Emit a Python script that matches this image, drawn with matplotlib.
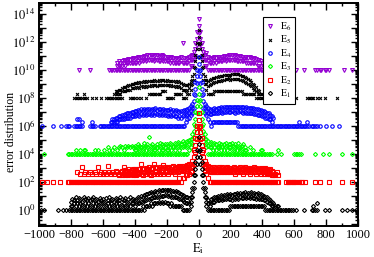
import numpy as np
import matplotlib
matplotlib.use('Agg')
import matplotlib.pyplot as plt
from matplotlib.ticker import LogLocator, FuncFormatter, MultipleLocator

plt.rcParams['font.family'] = ['Liberation Serif', 'DejaVu Serif']
plt.rcParams['mathtext.fontset'] = 'stix'

# histogram bins (E_i), counts per 10-unit column:
# lo / mid / hi = bottom, middle and top of the scatter band in each column
Ei = np.arange(-1000, 1001, 10)
Z = [0] * 20
ONE = [1] * 20

e1_lo = ([0,1,0,1,0,0,0,0,0,0,0,0,1,0,0,1,0,1,0,1] + ONE + ONE +
         [1,1,1,1,1,2,1,2,2,2,3,2,3,3,3,4,3,4,3,4] +
         [3,3,2,3,2,2,2,2,2,2,1,1,1,1,1,2,8,40,300,2000] +
         [16000,2000,300,40,8,2] + [1]*14 + [2]*20 + [2,2] + [1]*18 +
         [0,1,0,0,0,0,1,0,0,0,0,1,1,1,1,0,0,0,0,1] +
         [0,0,1,0,0,0,0,0,0,0,1,0,0,1,0,0,1,0,0,1] + [0])
e1_mid = (Z + [2,2,3,2,3,2,3,2,2,3,2,3,2,2,3,2,3,2,2,3] +
          [3,2,2,3,2,3,2,2,3,2,3,2,2,3,2,2,3,2,3,3] +
          [2,3,3,3,4,4,5,5,6,6,7,7,8,8,9,9,10,10,10,11] +
          [12,10,11,9,9,8,8,7,6,6,5,4,3,3,3,4,20,100,800,6000] +
          [50000,6000,800,100,20,4,3,2,3,4,4,5,5,5,6,5,6,6,7,6] +
          [6,5,7,6,7,6,8,7,7,8,7,8,7,8,7,7,6,7,6,6] +
          [6,5,5,4,3,3,2,2] + [0]*12 + Z + Z + [0])
e1_hi = (Z + [4,6,5,8,5,7,6,4,9,6,5,7,5,6,8,5,6,4,7,5] +
         [6,4,7,5,8,5,6,4,7,6,5,9,6,5,7,4,6,8,5,6] +
         [5,6,8,7,10,9,12,14,13,16,18,17,20,22,20,25,24,26,25,28] +
         [28,25,27,22,24,20,21,18,17,15,12,10,9,8,7,8,40,300,2500,20000] +
         [160000,20000,2500,300,40,8,5,4,6,7,8,9,10,9,11,10,12,11,13,12] +
         [14,12,15,13,16,14,17,15,16,18,15,17,16,18,15,17,14,16,13,15] +
         [12,10,9,8,6,5,4,3,2,2,2] + [0]*9 +
         [0]*12 + [2,0,3] + [0]*5 + Z + [0])

e2_lo = ([0,0,1,0,0,1,0,0,0,1,0,0,0,1,0,0,0,0,1,1] + ONE + ONE + ONE +
         [1,1,1,1,1,1,1,1,2,1,2,2,3,3,4,5,6,20,150,1100] +
         [9000,1100,150,20,6,4,2] + [1]*13 + ONE +
         [1]*11 + [0,0,0,0] + [1]*5 +
         [1,1,0,1,1,1,0,1,0,0,0,0,0,1,0,0,1,0,0,0] +
         [0,0,1,0,0,0,0,0,0,0,1,0,0,0,0,0,1,0,0,0] + [0])
e2_mid = (Z + Z + [0]*10 + [3,0,3,4,3,4,3,4,4,3] +
          [4,3,4,5,4,3,5,4,5,4,3,5,4,5,4,5,4,5,4,5] +
          [5,4,5,6,5,4,6,5,6,7,6,7,8,9,10,12,15,60,450,3500] +
          [28000,3500,450,60,15,10,7,6,5,5,6,5,5,6,5,6,5,6,5,6] +
          [5,6,5,4,5,6,5,5,4,6,5,5,4,5,6,5,4,5,5,4] +
          [5,4,5,4,4,4,3,3,3] + [0]*11 + Z + Z + [0])
e2_hi = (Z + [0,0,0,0,5,0,4,12,4,5,0,4,5,4,0,5,4,12,4,5] +
         [4,5,4,14,5,4,5,4,6,5,4,5,6,12,7,6,8,6,7,8] +
         [8,7,9,8,18,9,8,10,9,11,8,10,20,12,10,9,11,10,16,12] +
         [10,12,9,11,13,10,12,11,14,12,13,15,14,16,18,20,30,180,1400,10000] +
         [85000,10000,1400,180,30,20,15,12,10,9,11,10,9,12,10,11,9,10,12,10] +
         [10,9,11,10,8,10,12,9,10,11,9,10,8,10,9,11,10,8,9,10] +
         [9,8,10,8,7,8,6,5,4,5,3] + [0]*9 + Z + Z + [0])

e3_lo = ([0,0,0,1] + [0]*14 + [1,1] + ONE + ONE + ONE +
         [1]*14 + [2,3,5,15,100,800] +
         [6000,800,100,15,5,3] + [1]*14 + ONE +
         [1,1,1,1,1,1,1,0,0,1,0,0,1,0,0,0,0,0,0,0] +
         [1,1,1,1,1,0,0,0,0,0,0,0,0,1,0,0,0,0,1,0] +
         [0,0,1,0,0,0,0,0,0,0,1,0,0,0,0,0,1,0,0,0] + [0])
e3_mid = (Z + Z + Z +
          [2,2,3,2,2,2,3,2,3,2,2,3,2,2,3,2,3,2,2,3] +
          [2,2,3,2,3,2,3,3,2,3,3,4,3,4,5,6,12,45,300,2500] +
          [20000,2500,300,45,12,6,4,3,3,2,3,2,3,3,2,3,2,3,2,3] +
          [3,2,2,3,2,3,2,2,0,2] + [0]*10 + Z + Z + Z + [0])
e3_hi = (Z + [0,0,0,2,0,0,2,0,2,2,0,0,0,0,0,2,0,2,0,0] +
         [0,2,0,3,2,0,2,3,0,2,3,4,3,2,4,3,4,3,4,3] +
         [4,3,5,4,3,4,6,4,5,16,4,5,3,4,5,4,6,5,4,5] +
         [5,4,6,5,4,6,5,7,6,5,8,6,7,9,10,12,25,130,1000,7500] +
         [60000,7500,1000,130,25,12,8,6,7,5,6,5,4,6,5,4,5,6,4,5] +
         [5,6,4,5,4,6,3,4,5,3,2,0,3,0,2,0,0,0,0,2] +
         [2,0,0,0,0,0,0,0,0,0,2] + [0]*9 + Z + Z + [0])

e4_lo = ([0,0,1,0,0,0,0,0,0,1,0,0,0,0,1,0,0,1,1,1] +
         [0,0,1,1,1,1,1,1,0,0,0,0,1,1,1,1,0,0,1,1] + ONE + ONE +
         [1]*12 + [2,3,4,6,8,20,150,1100] +
         [9000,1100,150,20,8,6,3,2,1] + [2]*11 +
         [2]*5 + [1]*15 + ONE +
         [1,1,1,1,1,1,1,1,1,1,0,1,1,1,1,0,1,0,0,0] +
         [1,0,0,0,1,0,0,0,1] + [0]*11 + [0])
e4_mid = (Z + Z + [0]*6 + [2,2,2,2,3,3,3,3,4,4,4,4,5,5] +
          [5,6,6,5,7,6,7,6,7,7,6,7,6,8,7,6,7,6,7,6] +
          [6,5,6,5,6,5,5,4,5,4,5,6,6,7,9,12,18,60,450,3500] +
          [28000,3500,450,60,18,12,8,7,7,8,8,9,9,10,10,9,10,10,11,10] +
          [10,11,10,9,11,10,11,10,9,10,9,9,8,8,8,7,7,6,6,6] +
          [5,5,4,4,3,3,2] + [0]*13 + Z + Z + [0])
e4_hi = (Z + [0,0,0,0,3,3,0,2,0,0,0,0,0,2,0,0,0,0,0,0] +
         [0,0,0,0,0,2,3,3,4,4,5,5,6,6,7,8,8,9,10,10] +
         [11,12,14,12,15,13,16,14,15,17,14,16,15,18,14,15,16,14,15,13] +
         [14,13,15,12,14,11,13,12,10,11,12,14,13,15,18,25,35,180,1400,10000] +
         [85000,10000,1400,180,35,25,18,15,14,16,18,17,20,19,21,20,22,21,23,22] +
         [23,22,24,21,23,22,24,22,21,20,22,19,20,18,19,17,16,15,14,13] +
         [12,11,10,9,8,6,5,4] + [0]*12 +
         [0,0,0,2,0,0,0,0,2] + [0]*11 + Z + [0])

e5_lo = (Z + [0,0,1,1,1,1,1,1,1,1,1,0,0,1,0,0,1,0,0,1] +
         [0,0,1,1,1,1,1,1,1,1,1,1,1,0,0,0,0,1,1,1] +
         [1,0,1,0,1,0,0,1,0,2,2,2,2,2,2,2,2,3,3,3] +
         [1,1,1,1,1,2,2,2,2,2,1,1,1,2,2,4,10,20,130,900] +
         [7000,900,130,20,10,4,2,2,2,2] + [3]*10 +
         [3]*8 + [2]*8 + [1]*4 + ONE +
         [1,1,0,0,0,0,0,0,1,1,1,1,1,0,1,0,1,0,0,1] +
         [0]*7 + [1] + [0]*12 + [0])
e5_mid = (Z + Z + [0]*8 + [2,2,2,2,3,3,3,4,4,4,5,5] +
          [5,6,6,5,7,6,7,6,7,7,8,7,8,8,7,8,8,9,8,8] +
          [8,8,7,8,7,7,6,7,6,5,4,4,3,4,5,8,20,50,400,3000] +
          [24000,3000,400,50,20,10,7,8,10,12,13,14,15,16,17,18,20,22,23,25] +
          [20,22,23,24,22,22,20,18,16,14,12,10,8,7,5,4,3,2,2,0] +
          Z + Z + Z + [0])
e5_hi = (Z + [0,0,0,0,2,0,0,0,2] + [0]*11 +
         [0]*7 + [2,3,3,4,4,5,6,6,7,8,9,10,10] +
         [11,12,13,12,14,13,15,14,16,15,17,16,18,17,16,18,17,19,18,17] +
         [18,17,16,17,15,16,14,15,13,12,10,9,8,9,10,15,40,150,1200,9000] +
         [72000,9000,1200,150,40,20,15,18,22,25,28,30,32,35,38,40,42,44,45,46] +
         [45,48,50,52,48,50,45,40,36,30,26,22,18,14,10,8,6,4,3,2] +
         [2] + [0]*19 + Z + Z + [0])

e6_lo = (Z + [0,0,0,0,0,1,0,0,0,0,0,0,1] + [0]*7 +
         [0]*4 + [1]*16 + ONE +
         [1]*15 + [2,2,5,10,60] +
         [400,60,10,5,2,2] + [1]*14 + ONE +
         [1] + [0]*19 +
         [0,1,0,0,0,0,1,0,0,0,0,0,0,1,1,0,1,1,0,1] +
         [1,0,1,0,0,0,0,0,0,0,0,1,0,0,0,0,1,0,0,0] + [0])
e6_mid = (Z + Z + [0]*9 + [2,2,2,2,3,2,3,3,3,3,3] +
          [3,3,4,3,4,4,5,4,5,5,5,5,4,5,5,4,4,5,4,4] +
          [4,4,3,4,3,3,3,3,3,4,3,3,3,3,4,5,5,10,30,170] +
          [1300,170,30,10,5,5,4,3,3,3,4,3,4,4,4,4,5,4,5,5] +
          [5,5,5,5,4,4,4,4,4,4,3,3,3,3,3,3,3,2,2,2] +
          Z + Z + Z + [0])
e6_hi = (Z + Z + [0]*9 + [3,4,3,4,5,4,5,6,5,6,7] +
         [6,7,8,7,9,8,10,9,11,10,12,11,10,12,11,10,9,11,10,9] +
         [9,8,7,8,7,6,7,6,7,8,85,7,6,7,8,10,12,20,80,500] +
         [4000,500,80,20,12,16,8,7,6,7,8,7,8,9,8,9,10,9,10,11] +
         [12,11,10,11,10,9,10,9,8,9,8,7,8,7,6,7,6,5,5,4] +
         [3] + [0]*19 + Z + Z + [0])

labels = [r'$\mathrm{E}_6$', r'$\mathrm{E}_5$', r'$\mathrm{E}_4$',
          r'$\mathrm{E}_3$', r'$\mathrm{E}_2$', r'$\mathrm{E}_1$']
offsets = [1e10, 1e8, 1e6, 1e4, 1e2, 1e0]
bands = [(e6_lo, e6_mid, e6_hi), (e5_lo, e5_mid, e5_hi), (e4_lo, e4_mid, e4_hi),
         (e3_lo, e3_mid, e3_hi), (e2_lo, e2_mid, e2_hi), (e1_lo, e1_mid, e1_hi)]
markers = ['v', 'x', 'o', 'D', 's', 'D']
colors = ['#9400d3', 'black', 'blue', '#00ff00', 'red', 'black']
sizes = [2.8, 2.1, 2.5, 2.1, 2.4, 2.1]

fig = plt.figure(figsize=(3.74, 2.57), dpi=100)
ax = fig.add_axes([39/374, 31/257, 319/374, 223/257])

for lab, off, band, mk, col, ms in zip(labels, offsets, bands, markers, colors, sizes):
    for k, counts in enumerate(band):
        c = np.array(counts, dtype=float)
        m = c > 0
        ax.plot(Ei[m], c[m] * off, ls='none', marker=mk, ms=ms, mfc='none',
                mec=col, mew=0.8, label=lab if k == 0 else None)

ax.set_yscale('log')
ax.set_xlim(-1000, 1000)
ax.set_ylim(0.072, 6e14)
ax.xaxis.set_major_locator(MultipleLocator(200))
ax.xaxis.set_minor_locator(MultipleLocator(100))
ax.yaxis.set_major_locator(LogLocator(base=10, numticks=30))
ax.yaxis.set_minor_locator(LogLocator(base=10, subs=np.arange(2, 10), numticks=30))


def ylab(v, pos):
    e = int(round(np.log10(v)))
    return r'$10^{%d}$' % e if e % 2 == 0 else ''


ax.yaxis.set_major_formatter(FuncFormatter(ylab))
ax.tick_params(which='both', direction='in', top=True, right=True, width=1, labelsize=9)
ax.tick_params(which='major', length=5, pad=2.5)
ax.tick_params(which='minor', length=2.5)
for s in ax.spines.values():
    s.set_linewidth(1.4)

ax.set_xlabel(r'$\mathrm{E}_\mathrm{i}$', fontsize=9)
ax.xaxis.set_label_coords(0.5, -0.07)
ax.set_ylabel('error distribution', fontsize=8.5)
ax.yaxis.set_label_coords(-0.068, 0.42)

leg = ax.legend(loc='upper left', bbox_to_anchor=(0.702, 0.937), fontsize=7,
                frameon=True, fancybox=False, edgecolor='black', framealpha=1,
                handlelength=0.8, handletextpad=0.6, borderpad=0.35,
                labelspacing=0.1, borderaxespad=0)
leg.get_frame().set_linewidth(0.8)

fig.savefig('out.png', dpi=100)
